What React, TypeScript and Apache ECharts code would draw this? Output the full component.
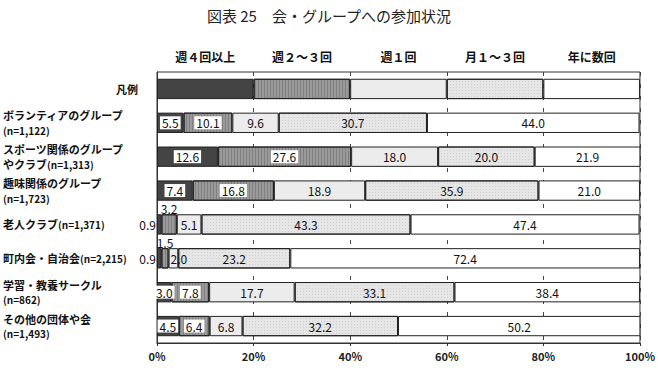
import React, { useEffect, useRef } from "react";
import * as echarts from "echarts";

const titleText = "図表 25　会・グループへの参加状況";
const seriesNames = ["週４回以上", "週２～３回", "週１回", "月１～３回", "年に数回"];
const categoryNames = [
  "凡例",
  "ボランティアのグループ",
  "スポーツ関係のグループ",
  "趣味関係のグループ",
  "老人クラブ",
  "町内会・自治会",
  "学習・教養サークル",
  "その他の団体や会",
];
const sampleSizes = ["", "(n=1,122)", "(n=1,313)", "(n=1,723)", "(n=1,371)", "(n=2,215)", "(n=862)", "(n=1,493)"];
const weekly4 = [20, 5.5, 12.6, 7.4, 0.9, 0.9, 3.0, 4.5];
const weekly23 = [20, 10.1, 27.6, 16.8, 3.2, 1.5, 7.8, 6.4];
const weekly1 = [20, 9.6, 18.0, 18.9, 5.1, 2.0, 17.7, 6.8];
const monthly13 = [20, 30.7, 20.0, 35.9, 43.3, 23.2, 33.1, 32.2];
const yearly = [20, 44.0, 21.9, 21.0, 47.4, 72.4, 38.4, 50.2];
const xTicks = [0, 20, 40, 60, 80, 100];

const FONT = "'Noto Sans CJK JP', 'Noto Sans', sans-serif";

function yLabel(value: string, index: number): string {
  const name = categoryNames[index];
  const n = sampleSizes[index];
  if (index === 0) return `{lg|${name}}`;
  if (index === 2) return `{a|スポーツ関係のグループ}\n{a|やクラブ}{b|${n}}`;
  if (index === 4 || index === 5) return `{a|${name}}{b|${n}}`;
  return `{a|${name}}\n{b|${n}}`;
}

export default function App() {
  const ref = useRef<HTMLDivElement>(null);
  useEffect(() => {
    if (!ref.current) return;
    const chart = echarts.init(ref.current, undefined, { renderer: "svg" });
    const all = [weekly4, weekly23, weekly1, monthly13, yearly];
    const colors = ["#444444", "#9a9a9a", "#ececec", "#e6e6e6", "#ffffff"];
    const decals: any[] = [
      null,
      { symbol: "rect", symbolSize: 1, dashArrayX: [[1, 2]], dashArrayY: [1, 0], color: "rgba(70,70,70,0.3)", rotation: 0 },
      null,
      { symbol: "rect", symbolSize: 1, dashArrayX: [[1, 2]], dashArrayY: [1, 2], color: "rgba(160,160,160,0.35)", rotation: 0 },
      null,
    ];
    const series = all.map((vals, si) => ({
      name: seriesNames[si],
      type: "bar",
      stack: "total",
      barWidth: "60%",
      itemStyle: {
        color: colors[si],
        borderColor: "#222",
        borderWidth: 1,
        ...(decals[si] ? { decal: decals[si] } : {}),
      },
      label: {
        show: true,
        position: "inside",
        fontFamily: FONT,
        fontSize: 12,
        color: "#111",
        formatter: (p: any) => Number(p.value).toFixed(1),
        ...(si < 2 ? { backgroundColor: "#fff", padding: [1, 2, 0, 2] } : {}),
      },
      data: vals.map((v, i) => {
        const item: any = { value: v };
        if (i === 0) {
          item.label = {
            show: true,
            position: "top",
            distance: 16,
            formatter: seriesNames[si],
            fontFamily: FONT,
            fontSize: 12,
            fontWeight: "bold",
            color: "#111",
            backgroundColor: "transparent",
            padding: 0,
          };
        } else if (si === 0 && v < 1) {
          item.label = { position: "left", distance: 1, backgroundColor: "transparent", padding: 0 };
        } else if (si === 1 && v < 4) {
          item.label = { position: "top", distance: 0, backgroundColor: "transparent", padding: 0 };
        } else if (si === 2 && v < 3) {
          item.label = { position: "insideLeft", distance: 2 };
        }
        return item;
      }),
    }));
    chart.setOption({
      animation: false,
      aria: { enabled: false, decal: { show: false } },
      title: {
        text: titleText,
        left: "center",
        top: 3,
        textStyle: { fontFamily: FONT, fontSize: 15, fontWeight: "normal", color: "#222" },
      },
      grid: {
        left: 154,
        right: 14,
        top: 72,
        bottom: 29,
        show: true,
        borderColor: "#333",
        borderWidth: 1,
        backgroundColor: "transparent",
      },
      xAxis: {
        type: "value",
        min: 0,
        max: 100,
        interval: 20,
        axisLine: { show: true, lineStyle: { color: "#333" } },
        axisTick: { show: true, length: 3, lineStyle: { color: "#333" } },
        splitLine: { show: true, lineStyle: { color: "#444", type: [4, 8], width: 1 } },
        axisLabel: {
          fontFamily: FONT,
          fontSize: 11,
          fontWeight: "bold",
          color: "#222",
          margin: 7,
          formatter: (v: number) => (xTicks.includes(v) ? `${v}%` : ""),
        },
      },
      yAxis: {
        type: "category",
        inverse: true,
        data: categoryNames,
        axisLine: { show: true, lineStyle: { color: "#333" } },
        axisTick: { show: false },
        axisLabel: {
          align: "left",
          margin: 154,
          formatter: yLabel,
          rich: {
            a: { fontFamily: FONT, fontSize: 11, fontWeight: "bold", color: "#111", lineHeight: 15 },
            b: { fontFamily: FONT, fontSize: 10, fontWeight: "bold", color: "#111", lineHeight: 15 },
            lg: { fontFamily: FONT, fontSize: 11, fontWeight: "bold", color: "#111", padding: [0, 0, 0, 113] },
          },
        },
      },
      series,
    });
    return () => chart.dispose();
  }, []);
  return <div ref={ref} style={{ width: 658, height: 372, position: "absolute", left: 0, top: 0 }} />;
}
